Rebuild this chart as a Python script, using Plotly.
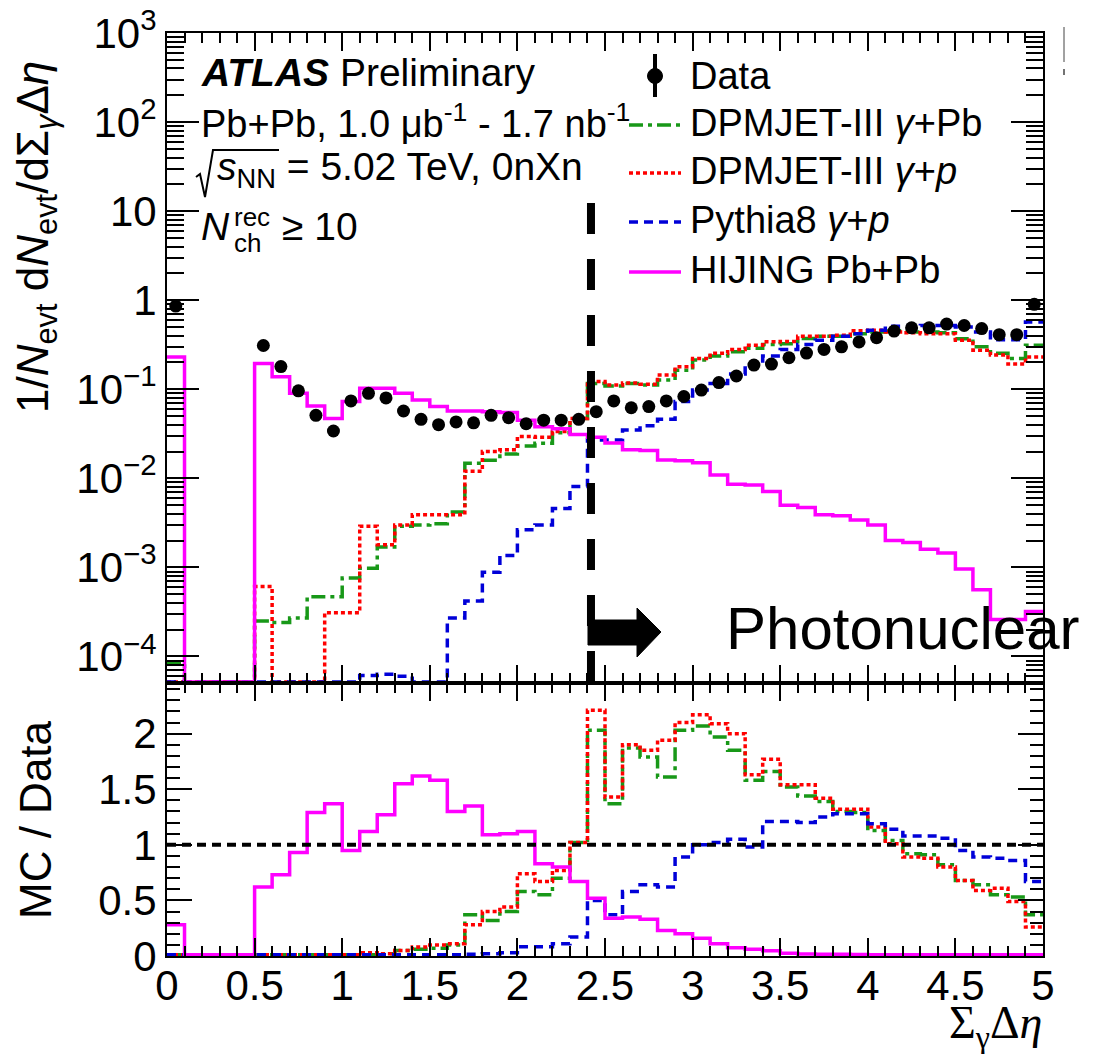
import plotly.graph_objects as go

# ---------------- data ----------------
bin_edges = [round(0.1 * i, 1) for i in range(51)]
bin_centers = [round(0.05 + 0.1 * i, 2) for i in range(50)]

data_vals = [0.86, None, None, None, None, 0.31, 0.18, 0.096, 0.051, 0.034,
             0.074, 0.090, 0.080, 0.057, 0.046, 0.040, 0.043, 0.042, 0.051, 0.048,
             0.041, 0.045, 0.045, 0.046, 0.056, 0.074, 0.062, 0.064, 0.074, 0.083,
             0.098, 0.119, 0.141, 0.187, 0.192, 0.226, 0.255, 0.28, 0.30, 0.34,
             0.38, 0.45, 0.49, 0.49, 0.54, 0.52, 0.48, 0.41, 0.41, 0.90]

dpmjet_pb = [8.5e-5, 0, 0, 0, 0, 2.5e-4, 2.4e-4, 2.7e-4, 4.7e-4, 4.7e-4,
             7.6e-4, 9.8e-4, 1.7e-3, 2.9e-3, 3.0e-3, 3.1e-3, 4.2e-3, 0.0148, 0.016, 0.0188,
             0.0231, 0.0247, 0.0326, 0.047, 0.116, 0.109, 0.116, 0.112, 0.127, 0.164,
             0.213, 0.236, 0.264, 0.288, 0.318, 0.325, 0.372, 0.395, 0.395, 0.42,
             0.44, 0.45, 0.44, 0.44, 0.43, 0.37, 0.30, 0.253, 0.222, 0.313]

dpmjet_p = [0, 0, 0, 0, 0, 6.1e-4, 0, 0, 0, 3.1e-4,
            3.1e-4, 2.9e-3, 1.8e-3, 3.0e-3, 3.9e-3, 3.9e-3, 3.9e-3, 0.012, 0.020, 0.021,
            0.0295, 0.029, 0.0335, 0.047, 0.122, 0.112, 0.118, 0.114, 0.145, 0.179,
            0.222, 0.253, 0.28, 0.313, 0.341, 0.345, 0.395, 0.395, 0.405, 0.453,
            0.46, 0.44, 0.43, 0.42, 0.42, 0.356, 0.275, 0.242, 0.192, 0.23]

pythia8_p = [0, 0, 0, 0, 0, 0, 0, 0, 0, 0,
             0, 6.1e-5, 6.3e-5, 6.0e-5, 0, 0, 2.7e-4, 4.2e-4, 8.8e-4, 1.36e-3,
             2.65e-3, 3.0e-3, 4.6e-3, 8.1e-3, 0.027, 0.027, 0.035, 0.039, 0.046, 0.073,
             0.098, 0.116, 0.148, 0.19, 0.236, 0.28, 0.318, 0.356, 0.395, 0.42,
             0.46, 0.51, 0.51, 0.52, 0.52, 0.50, 0.44, 0.36, 0.36, 0.57]

hijing_pbpb = [0.23, 0, 0, 0, 0, 0.195, 0.138, 0.090, 0.065, 0.047,
               0.073, 0.103, 0.103, 0.090, 0.076, 0.064, 0.057, 0.057, 0.056, 0.055,
               0.045, 0.038, 0.036, 0.031, 0.029, 0.025, 0.021, 0.0205, 0.0161, 0.0158,
               0.0150, 0.0109, 0.0086, 0.0084, 0.0071, 0.0050, 0.0047, 0.0039, 0.0038, 0.0034,
               0.0030, 0.0020, 0.0019, 0.0016, 0.00145, 0.00096, 0.00056, 0.00026, 0.00026, 0.00032]

ratio_dpmjet_pb = [0.0, 0, 0, 0, 0, 0.005, 0.005, 0.005, 0.005, 0.005,
                   0.01, 0.01, 0.02, 0.05, 0.06, 0.07, 0.10, 0.37, 0.32, 0.40,
                   0.58, 0.55, 0.70, 1.02, 2.03, 1.37, 1.87, 1.79, 1.61, 2.03,
                   2.07, 1.97, 1.85, 1.58, 1.66, 1.52, 1.44, 1.39, 1.30, 1.29,
                   1.13, 1.04, 0.92, 0.91, 0.82, 0.68, 0.64, 0.55, 0.53, 0.37]

ratio_dpmjet_p = [0, 0, 0, 0, 0, 0.002, 0, 0, 0, 0.01,
                  0.005, 0.03, 0.02, 0.05, 0.08, 0.10, 0.11, 0.28, 0.40, 0.44,
                  0.74, 0.67, 0.77, 1.02, 2.21, 1.43, 1.90, 1.85, 1.94, 2.10,
                  2.17, 2.09, 2.00, 1.63, 1.77, 1.54, 1.54, 1.42, 1.32, 1.32,
                  1.16, 1.01, 0.89, 0.88, 0.80, 0.68, 0.59, 0.61, 0.49, 0.26]

ratio_pythia8_p = [0, 0, 0, 0, 0, 0, 0, 0, 0, 0,
                   0.005, 0.01, 0.01, 0.01, 0.005, 0.005, 0.01, 0.015, 0.02, 0.03,
                   0.084, 0.084, 0.11, 0.17, 0.50, 0.37, 0.58, 0.64, 0.62, 0.89,
                   1.00, 1.02, 1.05, 0.98, 1.21, 1.21, 1.20, 1.25, 1.28, 1.28,
                   1.19, 1.14, 1.08, 1.08, 1.06, 0.95, 0.89, 0.88, 0.86, 0.67]

ratio_hijing = [0.28, 0, 0, 0, 0, 0.62, 0.73, 0.93, 1.29, 1.37,
                0.95, 1.12, 1.27, 1.55, 1.62, 1.58, 1.30, 1.35, 1.09, 1.10,
                1.12, 0.83, 0.80, 0.67, 0.52, 0.34, 0.35, 0.33, 0.23, 0.20,
                0.16, 0.11, 0.075, 0.06, 0.048, 0.024, 0.018, 0.015, 0.015, 0.013,
                0.012, 0.006, 0.006, 0.006, 0.006, 0.006, 0.006, 0.006, 0.006, 0.006]

series_names = ["DPMJET-III <i>γ</i>+Pb", "DPMJET-III <i>γ</i>+<i>p</i>",
                "Pythia8 <i>γ</i>+<i>p</i>", "HIJING Pb+Pb"]
cut_position = 2.42
log_y_tickvals = [1e-4, 1e-3, 1e-2, 1e-1, 1, 10, 100, 1000]
log_y_ticktext = ["10<sup>−4</sup>", "10<sup>−3</sup>", "10<sup>−2</sup>", "10<sup>−1</sup>",
                  "1", "10", "10<sup>2</sup>", "10<sup>3</sup>"]
ratio_tickvals = [0, 0.5, 1, 1.5, 2]
ratio_ticktext = ["0", "0.5", "1", "1.5", "2"]
x_tickvals = [0, 0.5, 1, 1.5, 2, 2.5, 3, 3.5, 4, 4.5, 5]
x_ticktext = ["0", "0.5", "1", "1.5", "2", "2.5", "3", "3.5", "4", "4.5", "5"]

# ---------------- styling ----------------
FONT = "Liberation Sans, Arial, sans-serif"
OFF = 8                       # default page margin of the html body
W, H = 1109 - OFF, 1054 - OFF
L, R, T, B = 167, 1043, 33, 956   # plot area in window pixels
SPLIT = 683.3
LOG_MIN = -4.301
FLOOR = 10 ** (LOG_MIN + 0.015)
RATIO_FLOOR = 0.012


def fx(p):
    return (p - L) / (R - L)


def fy(p):
    return (B - p) / (B - T)


styles = [
    dict(color="#189818", dash="14px,5px,4px,5px", width=3.5),
    dict(color="#ff0000", dash="4px,3px", width=3.5),
    dict(color="#0000d8", dash="9px,6px", width=3.5),
    dict(color="#ff00ff", dash="solid", width=3.5),
]


def step_y(vals, floor):
    y = [(floor if v <= floor else v) for v in vals]
    return y + [y[-1]]


fig = go.Figure()

top_series = [dpmjet_pb, dpmjet_p, pythia8_p, hijing_pbpb]
ratio_series = [ratio_dpmjet_pb, ratio_dpmjet_p, ratio_pythia8_p, ratio_hijing]

for vals, st, nm in zip(top_series, styles, series_names):
    fig.add_trace(go.Scatter(x=bin_edges, y=step_y(vals, FLOOR), mode="lines",
                             line=dict(shape="hv", **st), name=nm,
                             xaxis="x", yaxis="y", showlegend=False))

fig.add_trace(go.Scatter(x=bin_centers, y=data_vals, mode="markers",
                         marker=dict(color="black", size=13), name="Data",
                         xaxis="x", yaxis="y", showlegend=False))

for vals, st, nm in zip(ratio_series, styles, series_names):
    fig.add_trace(go.Scatter(x=bin_edges, y=step_y(vals, RATIO_FLOOR), mode="lines",
                             line=dict(shape="hv", **st), name=nm,
                             xaxis="x2", yaxis="y2", showlegend=False))

split_dom = fy(SPLIT)
axis_common = dict(showline=True, linecolor="black", linewidth=2, mirror="allticks",
                   ticks="inside", tickcolor="black", tickwidth=2, showgrid=False,
                   zeroline=False, ticklabeloverflow="allow")

fig.update_layout(
    width=W, height=H,
    margin=dict(l=L - OFF, r=W + OFF - R, t=T - OFF, b=H + OFF - B, autoexpand=False),
    paper_bgcolor="white", plot_bgcolor="white",
    font=dict(family=FONT, color="black"),
    showlegend=False,
    xaxis=dict(domain=[0, 1], range=[0, 5], anchor="y", showticklabels=False,
               tickvals=x_tickvals, ticklen=18,
               minor=dict(ticks="inside", ticklen=10, dtick=0.1, tick0=0,
                          tickcolor="black", tickwidth=2),
               **axis_common),
    xaxis2=dict(domain=[0, 1], range=[0, 5], anchor="y2", matches="x",
                tickvals=x_tickvals, ticktext=x_ticktext, ticklen=18,
                tickfont=dict(size=42, family=FONT), ticklabelstandoff=-8,
                minor=dict(ticks="inside", ticklen=10, dtick=0.1, tick0=0,
                           tickcolor="black", tickwidth=2),
                **axis_common),
    yaxis=dict(domain=[split_dom, 1], type="log", range=[LOG_MIN, 3], anchor="x",
               tickvals=log_y_tickvals, ticktext=log_y_ticktext, ticklen=32,
               tickfont=dict(size=42, family=FONT),
               minor=dict(ticks="inside", ticklen=17, dtick="D1",
                          tickcolor="black", tickwidth=2),
               **axis_common),
    yaxis2=dict(domain=[0, split_dom], range=[0, 2.453], anchor="x2",
                tickvals=ratio_tickvals, ticktext=ratio_ticktext, ticklen=25,
                tickfont=dict(size=42, family=FONT),
                minor=dict(ticks="inside", ticklen=13, dtick=0.1, tick0=0,
                           tickcolor="black", tickwidth=2),
                **axis_common),
)

shapes = []
# photonuclear cut line (top panel)
shapes.append(dict(type="line", xref="x", yref="paper", x0=cut_position, x1=cut_position,
                   y0=fy(203), y1=fy(SPLIT), layer="above",
                   line=dict(color="black", width=8, dash="31px,25px")))
# ratio = 1 line
shapes.append(dict(type="line", xref="x2", yref="y2", x0=0, x1=5, y0=1, y1=1,
                   layer="above", line=dict(color="black", width=4, dash="9px,6px")))
# arrow
arrow_pts = [(588, 620), (637, 620), (637, 608), (661, 632), (637, 657), (637, 645), (588, 645)]
path = "M " + " L ".join(f"{fx(a):.5f},{fy(b):.5f}" for a, b in arrow_pts) + " Z"
shapes.append(dict(type="path", xref="paper", yref="paper", path=path,
                   fillcolor="black", line=dict(color="black", width=1), layer="above"))
# sqrt sign
sq_pts = [(196, 177), (200, 174), (205, 197), (213, 150), (279, 150)]
sq_path = "M " + " L ".join(f"{fx(a):.5f},{fy(b):.5f}" for a, b in sq_pts)
shapes.append(dict(type="path", xref="paper", yref="paper", path=sq_path,
                   line=dict(color="black", width=2), layer="above"))
# small stray mark at the top right of the reference
shapes.append(dict(type="line", xref="paper", yref="paper", x0=fx(1064), x1=fx(1064),
                   y0=fy(27), y1=fy(62), line=dict(color="#444444", width=1)))
shapes.append(dict(type="line", xref="paper", yref="paper", x0=fx(1064), x1=fx(1064),
                   y0=fy(69), y1=fy(75), line=dict(color="#444444", width=1.5)))

# legend samples
legend_y = [125, 173, 222, 272]
for ly, st in zip(legend_y, styles):
    shapes.append(dict(type="line", xref="paper", yref="paper",
                       x0=fx(629), x1=fx(681), y0=fy(ly), y1=fy(ly),
                       line=dict(color=st["color"], width=st["width"], dash=st["dash"])))
# data legend glyph
shapes.append(dict(type="line", xref="paper", yref="paper", x0=fx(655), x1=fx(655),
                   y0=fy(54), y1=fy(97), line=dict(color="black", width=4)))
shapes.append(dict(type="circle", xref="paper", yref="paper", x0=fx(647.5), x1=fx(662.5),
                   y0=fy(68.5), y1=fy(83.5), fillcolor="black", line=dict(color="black", width=1)))
fig.update_layout(shapes=shapes)

annotations = []


def text(x, y, s, size=38, xanchor="left", yanchor="middle", angle=0, family=FONT):
    annotations.append(dict(xref="paper", yref="paper", x=fx(x), y=fy(y), text=s,
                            showarrow=False, xanchor=xanchor, yanchor=yanchor,
                            textangle=angle, font=dict(size=size, family=family, color="black")))


text(688, 76, "Data")
for ly, nm in zip(legend_y, series_names):
    text(688, ly - 2, nm)

text(199, 72, "<b><i>ATLAS</i></b> Preliminary", size=39)
text(199, 121, "Pb+Pb, 1.0 μb<sup>-1</sup> - 1.7 nb<sup>-1</sup>", size=38)
text(215, 170, "<i>s</i><sub>NN</sub> = 5.02 TeV, 0nXn", size=39)
text(199, 226, "<i>N</i>", size=39)
text(232, 217, "rec", size=26)
text(232, 243, "ch", size=26)
text(280, 226, "≥ 10", size=39)
text(724, 628, "Photonuclear", size=60)

text(36, 237, "1/<i>N</i><sub>evt</sub> d<i>N</i><sub>evt</sub>/dΣ<sub><i>γ</i></sub>Δ<i>η</i>",
     size=44, xanchor="center", angle=-90)
text(35, 820, "MC / Data", size=44, xanchor="center", angle=-90)
text(1044, 1026, "Σ<sub>γ</sub>Δ<i>η</i>", size=46, xanchor="right",
     family="Liberation Serif, Times New Roman, serif")

fig.update_layout(annotations=annotations)

fig.write_html("out.html")
